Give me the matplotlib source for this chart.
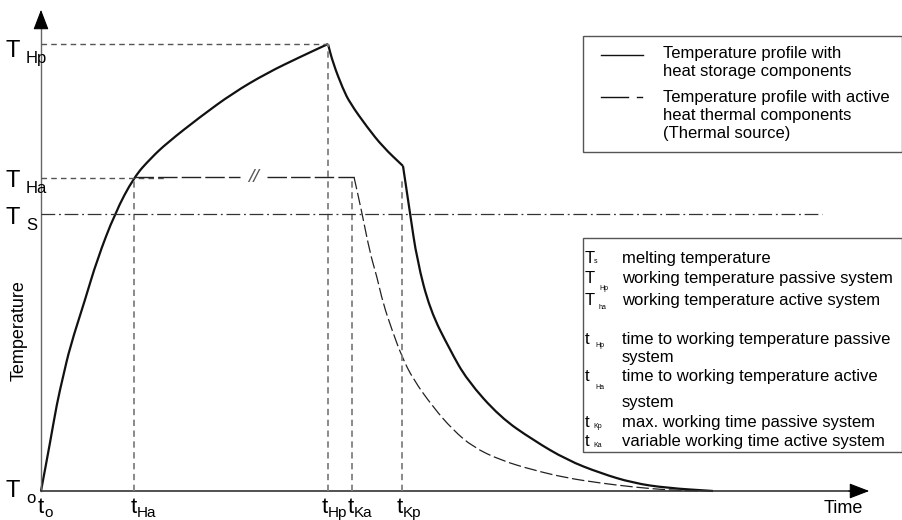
import matplotlib.pyplot as plt
from matplotlib import font_manager
from matplotlib.patches import Rectangle, PathPatch
from matplotlib.path import Path

# key times and temperatures (diagram units, origin = t_o / T_o)
t_o, t_Ha, t_Hp, t_Ka, t_Kp = 0, 93, 287, 311, 361
T_o, T_S, T_Ha, T_Hp = 0, 277, 314, 447
t_S_end = 781          # end of the melting temperature line
t_Ha_ref_end = 126     # short dashed T_Ha guide
brk_lo, brk_hi = 199, 226   # "//" break in the active plateau

# passive system (heat storage) profile: heating, slow cooling, fast cooling
heat_t = [0, 9, 16, 22, 29, 44, 56, 74, 93, 110, 126, 159, 192, 226, 259, 287]
heat_T = [0, 48, 88, 114, 144, 191, 231, 278, 314, 333, 348, 374, 398, 418, 434, 447]
store_t = [287, 292, 302, 309, 326, 342, 362]
store_T = [447, 428, 402, 388, 364, 344, 325]
cool_t = [362, 369, 376, 389, 409, 426, 459, 492, 526, 559, 592, 626, 672]
cool_T = [325, 278, 231, 181, 141, 111, 74, 51, 31, 18, 8, 3, 0]

# active system (thermal source) profile after switching off
active_t = [313, 321, 329, 336, 342, 351, 361, 372, 392, 412, 432, 459, 492, 526, 559, 592, 626, 659]
active_T = [314, 278, 238, 214, 188, 161, 134, 112, 84, 61, 44, 31, 21, 13, 8, 4, 1, 0]

legend1_lines = ["Temperature profile with", "heat storage components",
                 "Temperature profile with active", "heat thermal components",
                 "(Thermal source)"]
legend2_text = ["melting temperature", "working temperature passive system",
                "working temperature active system",
                "time to working temperature passive", "system",
                "time to working temperature active", "system",
                "max. working time passive system", "variable working time active system"]
legend2_syms = [("T", "s", 0), ("T", "Hp", 1), ("T", "ha", 2), ("t", "Hp", 3),
                ("t", "Ha", 5), ("t", "Kp", 7), ("t", "Ka", 8)]

plt.rcParams["font.family"] = ["Liberation Sans", "DejaVu Sans"]
avail = {f.name for f in font_manager.fontManager.ttflist}
narrow = "Liberation Sans Narrow" if "Liberation Sans Narrow" in avail else "Liberation Sans"
sub_size = 12 if narrow == "Liberation Sans Narrow" else 11


def smooth_path(xs, ys):
    # quadratic bezier through the midpoints, read points act as control points
    pts = list(zip(xs, ys))
    mids = [((a[0] + b[0]) / 2, (a[1] + b[1]) / 2) for a, b in zip(pts[:-1], pts[1:])]
    verts, codes = [pts[0], mids[0]], [Path.MOVETO, Path.LINETO]
    for i in range(1, len(pts) - 1):
        verts += [pts[i], mids[i]]
        codes += [Path.CURVE3, Path.CURVE3]
    verts.append(pts[-1])
    codes.append(Path.LINETO)
    return Path(verts, codes)


fig = plt.figure(figsize=(9.03, 5.2), dpi=100)
ax = fig.add_axes([0, 0, 1, 1])
ax.set_xlim(-41, 862)
ax.set_ylim(-29, 491)
ax.axis("off")

# axes with arrows
ax.plot([0, 0], [0, 470], color="#666666", lw=1.0)
ax.annotate("", xy=(0, 484), xytext=(0, 460),
            arrowprops=dict(arrowstyle="-|>,head_length=1.25,head_width=0.48",
                            mutation_scale=10, color="black", lw=0.8))
ax.plot([0, 815], [0, 0], color="#333333", lw=1.2)
ax.annotate("", xy=(831, 0), xytext=(805, 0),
            arrowprops=dict(arrowstyle="-|>,head_length=1.25,head_width=0.48",
                            mutation_scale=10, color="black", lw=0.8))

# guide lines
gray = "#808080"
ax.plot([0, t_Hp], [T_Hp, T_Hp], color="#555555", lw=1.0, dashes=(4, 3))
ax.plot([0, t_Ha_ref_end], [T_Ha - 1, T_Ha - 1], color="#555555", lw=1.0, dashes=(4, 3))
for tv, top in [(t_Ha, T_Ha), (t_Hp, T_Hp), (t_Ka, T_Ha), (t_Kp, T_Ha)]:
    ax.plot([tv, tv], [0, top], color=gray, lw=1.3, dashes=(3.5, 2.5))
ax.plot([0, t_S_end], [T_S, T_S], color="#333333", lw=0.9, dashes=(11, 3, 1.5, 3))

# active plateau with break
ax.plot([t_Ha, brk_lo], [T_Ha, T_Ha], color="#222222", lw=1.0, dashes=(14, 3))
ax.plot([brk_hi, active_t[0]], [T_Ha, T_Ha], color="#222222", lw=1.0, dashes=(14, 3))
ax.text((brk_lo + brk_hi) / 2, T_Ha, "//", fontsize=14, color="#555555",
        ha="center", va="center", style="italic")
ax.add_patch(PathPatch(smooth_path(active_t, active_T), fill=False, edgecolor="#222222",
                       lw=0.9, linestyle=(0, (10, 3))))

# passive profile
for xs, ys in [(heat_t, heat_T), (store_t, store_T), (cool_t, cool_T)]:
    ax.add_patch(PathPatch(smooth_path(xs, ys), fill=False, edgecolor="#111111",
                           lw=1.6, joinstyle="miter"))

# temperature labels (left)
for sub, base in [("Hp", 434), ("Ha", 304), ("S", 267), ("o", -6)]:
    ax.text(-35, base, "T", fontsize=17, va="baseline", ha="left")
    ax.text(-15, base - 6, sub, fontsize=sub_size + 1, family=narrow, va="baseline", ha="left")
ax.text(-22, 160, "Temperature", fontsize=13, rotation=90, ha="center", va="center")

# time labels (bottom)
for sub, tv in [("o", -3), ("Ha", 90), ("Hp", 281), ("Ka", 307), ("Kp", 356)]:
    ax.text(tv, -22, "t", fontsize=16, va="baseline", ha="left")
    ax.text(tv + 6, -26, sub, fontsize=sub_size, family=narrow, va="baseline", ha="left")
ax.text(783, -22, "Time", fontsize=13, va="baseline", ha="left")

# legend box 1
ax.add_patch(Rectangle((542, 339), 319, 116, fill=False, edgecolor="#555555", lw=1.0))
ax.plot([560, 602], [436, 436], color="#111111", lw=1.0)
ax.plot([560, 587], [394, 394], color="#111111", lw=1.0)
ax.plot([596, 601], [394, 394], color="#111111", lw=1.0)
for txt, base in zip(legend1_lines, [433, 415, 389, 371, 353]):
    ax.text(622, base, txt, fontsize=12, va="baseline", ha="left")

# legend box 2
ax.add_patch(Rectangle((542, 39), 319, 214, fill=False, edgecolor="#555555", lw=1.0))
row_base = [228, 208, 186, 147, 129, 110, 84, 64, 45]
for txt, base in zip(legend2_text, row_base):
    ax.text(581, base, txt, fontsize=12, va="baseline", ha="left")
sub_off = {0: (9, 0), 1: (14, -7), 2: (14, -4), 3: (10, -3), 5: (10, -8), 7: (8, -1), 8: (8, -1)}
for main, sub, row in legend2_syms:
    dx, dy = sub_off[row]
    ax.text(544, row_base[row], main, fontsize=12, va="baseline", ha="left")
    ax.text(544 + dx, row_base[row] + dy, sub, fontsize=5, va="baseline", ha="left")

fig.savefig("out.png", dpi=100, facecolor="white")
